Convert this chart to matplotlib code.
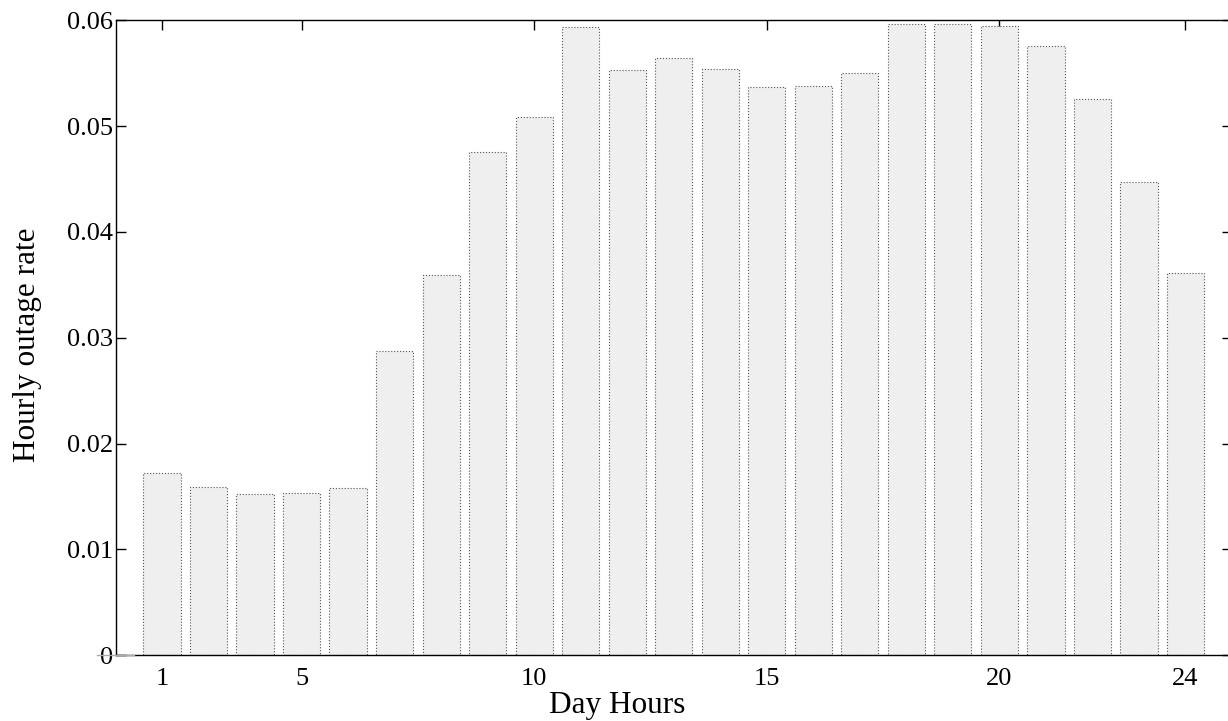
import numpy as np
import matplotlib
matplotlib.use("Agg")
import matplotlib.pyplot as plt

# ---- data ----
bar_index = list(range(1, 24))
outage_rate = [0.01720, 0.01587, 0.01527, 0.01531, 0.01578, 0.02873, 0.03594,
               0.04753, 0.05084, 0.05934, 0.05528, 0.05641, 0.05543, 0.05367,
               0.05377, 0.05499, 0.05962, 0.05965, 0.05949, 0.05760, 0.05259,
               0.04475, 0.03612]
xtick_pos = [1, 4, 9, 14, 19, 23]
xtick_labels = ["1", "5", "10", "15", "20", "24"]
ytick_vals = [0, 0.01, 0.02, 0.03, 0.04, 0.05, 0.06]
ytick_labels = ["0", "0.01", "0.02", "0.03", "0.04", "0.05", "0.06"]

plt.rcParams['font.family'] = ['Liberation Serif', 'DejaVu Serif']

W, H = 1228, 721
fig = plt.figure(figsize=(W / 100, H / 100), dpi=100)
left_px, right_px = 115.5, 1232.0
top_px, bot_px = 20.3, 655.3
ax = fig.add_axes([left_px / W, (H - bot_px) / H,
                   (right_px - left_px) / W, (bot_px - top_px) / H])

ax.bar(bar_index, outage_rate, width=0.8, color='#efefef',
       edgecolor='#555555', linewidth=0.8, linestyle=':', zorder=3)

ax.set_xlim(0, 24)
ax.set_ylim(0, 0.06)
ax.set_xticks(xtick_pos)
ax.set_xticklabels(xtick_labels)
ax.set_yticks(ytick_vals)
ax.set_yticklabels(ytick_labels)
ax.set_axisbelow(True)

ax.tick_params(axis='both', direction='in', length=7.5, width=1.0,
               labelsize=19, top=True, right=True, color='black')
ax.tick_params(axis='y', pad=1.5)
ax.tick_params(axis='x', pad=9)
for s in ax.spines.values():
    s.set_linewidth(1.0)
    s.set_zorder(4)

# baseline stub striking through the "0" label (MATLAB artefact)
ax.axhline(0, xmin=-0.017, xmax=0.017, color='#aaaaaa', lw=1.0,
           clip_on=False, zorder=5)

ax.set_xlabel("Day Hours", fontsize=22.5)
ax.xaxis.set_label_coords((617.5 - left_px) / (right_px - left_px),
                          -(705 - bot_px) / (bot_px - top_px))
ax.xaxis.label.set_va('center')
ax.set_ylabel("Hourly outage rate", fontsize=22.5)
ax.yaxis.set_label_coords((28 - left_px) / (right_px - left_px),
                          (bot_px - 345) / (bot_px - top_px))
ax.yaxis.label.set_va('center')

fig.savefig("out.png", dpi=100)
